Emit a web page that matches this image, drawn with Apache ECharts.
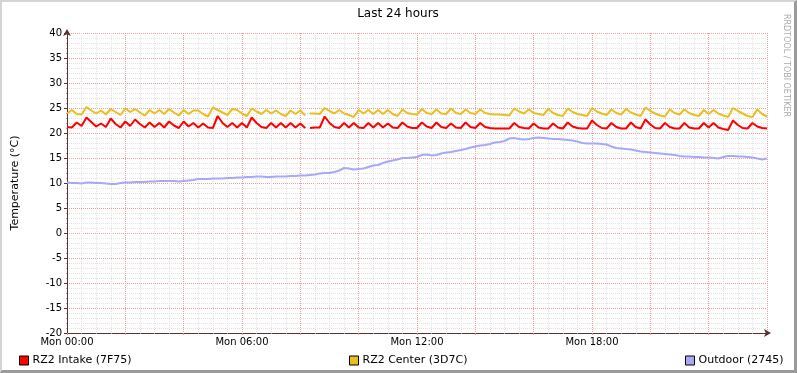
<!DOCTYPE html>
<html>
<head>
<meta charset="utf-8">
<script src="https://cdn.jsdelivr.net/npm/echarts@6/dist/echarts.min.js"></script>
<style>
  html, body { margin: 0; padding: 0; background: #fff; }
  #frame {
    width: 797px; height: 373px; box-sizing: border-box;
    border-top: 2px solid #d4d4d4; border-left: 2px solid #d4d4d4;
    border-right: 3px solid #9a9a9a; border-bottom: 3px solid #9a9a9a;
    background: #fff;
  }
  #chart { width: 792px; height: 368px; }
</style>
</head>
<body>
<div id="frame"><div id="chart"></div></div>
<script>
// samples every 10 minutes, Mon 00:00 .. Tue 00:00
const startMin = 0;
const stepMin = 10;
const gapMin = [495];   // missing sample for the two room sensors
const tickLabels = ['Mon 00:00', 'Mon 06:00', 'Mon 12:00', 'Mon 18:00'];
const seriesNames = ['RZ2 Intake (7F75)', 'RZ2 Center (3D7C)', 'Outdoor (2745)'];

const intake = [
  21.2, 21.1, 22.1, 21.4, 23.1, 22.2, 21.3, 21.9, 21.2, 22.9,
  21.8, 21.1, 22.3, 21.4, 22.7, 21.8, 21.1, 22.1, 21.2, 22.0,
  21.1, 22.3, 21.5, 21.0, 22.3, 21.3, 22.0, 21.1, 21.9, 21.1,
  21.0, 23.4, 22.0, 21.2, 22.0, 21.1, 22.0, 21.1, 23.1, 22.0,
  21.2, 21.0, 22.0, 21.1, 22.0, 21.1, 22.0, 21.1, 21.9, 21.0,
  21.0, 21.1, 21.1, 23.3, 22.0, 21.2, 21.0, 22.0, 21.1, 22.0,
  21.1, 21.0, 22.0, 21.1, 22.0, 21.1, 21.9, 21.1, 21.0, 22.1,
  21.3, 21.0, 21.0, 22.1, 21.3, 21.0, 22.1, 21.2, 21.0, 21.9,
  21.1, 21.0, 22.1, 21.2, 21.0, 22.0, 21.2, 21.0, 20.9, 20.9,
  20.9, 20.9, 22.0, 21.2, 21.0, 20.9, 21.9, 21.1, 20.9, 20.9,
  21.9, 21.1, 20.9, 22.1, 21.3, 21.0, 20.9, 20.9, 22.5, 21.6,
  21.0, 20.9, 22.0, 21.2, 20.9, 20.9, 22.1, 21.2, 20.9, 22.7,
  21.7, 21.0, 20.9, 22.0, 21.2, 20.9, 20.9, 22.0, 21.1, 20.9,
  20.9, 22.0, 21.1, 22.0, 21.1, 20.8, 20.6, 22.5, 21.6, 21.0,
  20.9, 22.0, 21.3, 21.0, 20.9
];

const center = [
  23.9, 24.6, 23.8, 23.7, 25.2, 24.5, 23.9, 24.5, 23.7, 24.8,
  24.2, 23.6, 24.9, 24.2, 24.8, 24.1, 23.5, 24.6, 23.9, 24.6,
  23.8, 24.8, 24.1, 23.5, 24.6, 23.8, 24.5, 24.5, 23.8, 23.3,
  25.1, 24.6, 24.1, 23.6, 24.8, 24.6, 23.9, 23.4, 24.9, 24.3,
  23.8, 24.6, 23.9, 24.5, 23.8, 23.4, 24.5, 23.8, 24.5, 23.5,
  23.9, 23.9, 23.8, 25.0, 24.4, 23.9, 24.6, 23.9, 23.6, 23.2,
  24.6, 23.9, 24.6, 23.8, 24.6, 23.8, 24.6, 23.8, 23.4, 24.7,
  24.0, 23.8, 23.7, 24.8, 24.0, 23.8, 24.7, 23.9, 23.8, 24.9,
  24.0, 23.8, 24.7, 24.0, 23.8, 24.7, 24.0, 23.8, 23.7, 23.7,
  23.6, 23.5, 24.9, 24.3, 23.9, 24.7, 24.0, 23.8, 23.6, 24.8,
  24.0, 23.6, 23.4, 24.9, 24.2, 23.8, 23.6, 23.4, 25.0, 24.3,
  23.9, 23.6, 24.7, 24.0, 23.7, 24.8, 24.1, 23.7, 23.4, 25.1,
  24.4, 23.9, 23.5, 23.3, 24.7, 24.0, 23.7, 24.7, 24.0, 23.6,
  23.4, 24.6, 23.8, 24.6, 23.9, 23.5, 23.2, 25.0, 24.4, 23.9,
  23.4, 23.2, 24.7, 23.8, 23.3
];

const outdoor = [
  10.1, 10.0, 10.0, 9.9, 10.1, 10.1, 10.0, 10.0, 9.9, 9.8,
  9.8, 10.0, 10.1, 10.1, 10.2, 10.2, 10.2, 10.3, 10.3, 10.4,
  10.4, 10.4, 10.4, 10.3, 10.4, 10.5, 10.6, 10.8, 10.8, 10.8,
  10.9, 10.9, 10.9, 11.0, 11.0, 11.1, 11.1, 11.2, 11.2, 11.3,
  11.3, 11.2, 11.2, 11.3, 11.3, 11.3, 11.4, 11.4, 11.5, 11.5,
  11.6, 11.7, 11.9, 12.0, 12.0, 12.2, 12.5, 13.0, 12.9, 12.7,
  12.8, 12.9, 13.2, 13.5, 13.6, 14.0, 14.3, 14.5, 14.7, 15.0,
  15.0, 15.1, 15.2, 15.6, 15.7, 15.5, 15.6, 15.9, 16.1, 16.2,
  16.4, 16.6, 16.8, 17.1, 17.3, 17.5, 17.6, 17.8, 18.1, 18.2,
  18.4, 18.9, 19.0, 18.8, 18.7, 18.8, 19.0, 19.1, 19.0, 18.9,
  18.8, 18.8, 18.7, 18.6, 18.5, 18.3, 18.0, 17.9, 17.9, 17.9,
  17.8, 17.7, 17.3, 17.0, 16.9, 16.8, 16.7, 16.5, 16.3, 16.2,
  16.1, 16.0, 15.9, 15.8, 15.7, 15.6, 15.4, 15.3, 15.3, 15.2,
  15.2, 15.1, 15.1, 15.0, 14.9, 15.2, 15.4, 15.4, 15.3, 15.3,
  15.2, 15.1, 14.9, 14.7, 14.9
];

const colors = ['#ff0000', '#e9be20', '#a8a8f8'];

function pairs(values, gaps) {
  const out = values.map((v, i) => [startMin + i * stepMin, v]);
  (gaps || []).forEach(g => out.push([g, null]));
  out.sort((a, b) => a[0] - b[0]);
  return out;
}

const chart = echarts.init(document.getElementById('chart'));
const font = 'DejaVu Sans';

const makeSeries = (name, values, color, gaps) => ({
  name: name,
  type: 'line',
  data: pairs(values, gaps),
  showSymbol: false,
  connectNulls: false,
  lineStyle: { color: color, width: 2 },
  itemStyle: { color: color },
  animation: false
});

const legendItem = (name, left) => ({
  data: [name],
  left: left,
  top: 348,
  itemWidth: 9,
  itemHeight: 9,
  itemGap: 0,
  icon: 'rect',
  itemStyle: { borderColor: '#000', borderWidth: 1 },
  textStyle: { fontFamily: font, fontSize: 11, color: '#000', padding: [0, 0, 0, -1] }
});

const option = {
  backgroundColor: '#fff',
  animation: false,
  title: {
    text: 'Last 24 hours',
    left: 'center',
    top: 1,
    textStyle: { fontFamily: font, fontSize: 12, fontWeight: 'normal', color: '#000' }
  },
  legend: [
    legendItem(seriesNames[0], 12),
    legendItem(seriesNames[1], 342),
    legendItem(seriesNames[2], 678)
  ],
  grid: { left: 65, top: 31, width: 700, height: 300, outerBoundsMode: 'none', containLabel: false },
  xAxis: {
    type: 'value',
    min: 0,
    max: 1440,
    interval: 120,
    axisLine: {
      onZero: false,
      lineStyle: { color: '#5a3030', width: 1 },
      symbol: ['none', 'arrow'],
      symbolSize: [6, 7],
      symbolOffset: [0, 4]
    },
    axisTick: { show: true, length: 2, lineStyle: { color: '#e09090' } },
    minorTick: { show: true, splitNumber: 4, length: 1, lineStyle: { color: '#aaa' } },
    axisLabel: {
      fontFamily: font, fontSize: 10, color: '#000', margin: 4,
      formatter: v => (v % 360 === 0 && v < 1440) ? tickLabels[v / 360] : ''
    },
    splitLine: { show: true, lineStyle: { color: '#e6a0a0', type: 'dotted', width: 1 } },
    minorSplitLine: { show: true, lineStyle: { color: '#e2e2e2', type: 'dotted', width: 1 } }
  },
  yAxis: {
    type: 'value',
    min: -20,
    max: 40,
    interval: 5,
    name: 'Temperature (°C)',
    nameLocation: 'middle',
    nameRotate: 90,
    nameGap: 46,
    nameTextStyle: { fontFamily: font, fontSize: 11, color: '#000' },
    axisLine: {
      show: true,
      onZero: false,
      lineStyle: { color: '#5a3030', width: 1 },
      symbol: ['none', 'arrow'],
      symbolSize: [6, 7],
      symbolOffset: [0, 4]
    },
    axisTick: { show: true, length: 3, lineStyle: { color: '#5a3030' } },
    minorTick: { show: true, splitNumber: 5, length: 1, lineStyle: { color: '#aaa' } },
    axisLabel: { fontFamily: font, fontSize: 10, color: '#000', margin: 5 },
    splitLine: { show: true, lineStyle: { color: '#e6a0a0', type: 'dotted', width: 1 } },
    minorSplitLine: { show: true, lineStyle: { color: '#e2e2e2', type: 'dotted', width: 1 } }
  },
  graphic: [{
    type: 'text',
    left: 780,
    top: 12,
    rotation: -Math.PI / 2,
    style: {
      text: 'RRDTOOL / TOBI OETIKER',
      font: '8px "DejaVu Sans"',
      fill: '#aaaaaa'
    }
  }],
  series: [
    makeSeries(seriesNames[0], intake, colors[0], gapMin),
    makeSeries(seriesNames[1], center, colors[1], gapMin),
    makeSeries(seriesNames[2], outdoor, colors[2])
  ]
};

chart.setOption(option);
</script>
</body>
</html>
